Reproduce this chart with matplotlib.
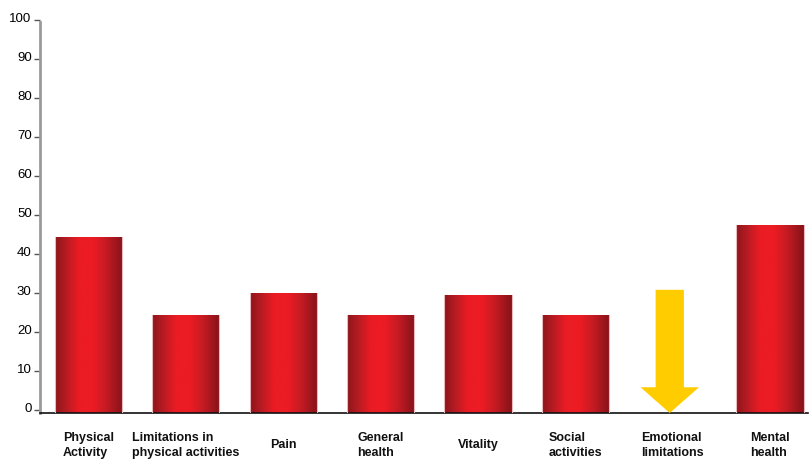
import numpy as np
import matplotlib
matplotlib.use("Agg")
import matplotlib.pyplot as plt
import matplotlib.transforms as mtransforms
from matplotlib.colors import LinearSegmentedColormap

categories = ["Physical\nActivity", "Limitations in\nphysical activities", "Pain",
              "General\nhealth", "Vitality", "Social\nactivities",
              "Emotional\nlimitations", "Mental\nhealth"]
values = [44.4, 24.4, 30, 24.4, 29.5, 24.4, 30.8, 47.4]
arrow_index = 6
yticks = [0, 10, 20, 30, 40, 50, 60, 70, 80, 90, 100]

plt.rcParams['font.family'] = ['Liberation Sans', 'DejaVu Sans']

fig = plt.figure(figsize=(8.11, 4.65), dpi=100)
ax = fig.add_axes([40/811, 1 - 413/465, 768/811, 393/465])
ymin = -0.8

cmap = LinearSegmentedColormap.from_list(
    "redgrad",
    [(0.0, "#8c161b"), (0.15, "#b31b22"), (0.35, "#ea1c24"),
     (0.55, "#ed1c24"), (0.75, "#c61b23"), (1.0, "#85131a")])
grad = np.linspace(0, 1, 256).reshape(1, -1)

x = np.arange(len(categories))
bar_vals = [(v - ymin) if i != arrow_index else 0 for i, v in enumerate(values)]
bars = ax.bar(x, bar_vals, bottom=ymin, width=0.69, color="none", edgecolor="none")
for i, b in enumerate(bars):
    if i == arrow_index:
        continue
    x0, y0 = b.get_x(), b.get_y()
    w, h = b.get_width(), b.get_height()
    im = ax.imshow(grad, cmap=cmap, aspect="auto",
                   extent=(x0, x0 + w, y0, y0 + h), zorder=2,
                   interpolation="bicubic")
    im.set_clip_path(b)
    ax.plot([x0, x0], [y0, y0 + h], color="#e9b9bd", lw=0.8, zorder=3)
    ax.plot([x0 + w, x0 + w], [y0, y0 + h], color="#e9b9bd", lw=0.8, zorder=3)

# Yellow down arrow for emotional limitations
ax.arrow(x[arrow_index] - 0.03, values[arrow_index], 0, -(values[arrow_index] - ymin),
         width=0.29, head_width=0.6, head_length=6.6,
         length_includes_head=True, color="#ffcc00", ec="none", zorder=3)

ax.set_xlim(-0.498, 7.39)
ax.set_ylim(ymin, 100)
ax.set_yticks(yticks)
ax.set_yticklabels([str(t) for t in yticks], fontsize=9.5)
ax.tick_params(axis="y", length=4, width=1, color="#555555", pad=2)
offset = mtransforms.ScaledTranslation(0, 2.5/100, fig.dpi_scale_trans)
for lab in ax.get_yticklabels():
    lab.set_transform(lab.get_transform() + offset)
ax.set_xticks([])

for s in ["top", "right"]:
    ax.spines[s].set_visible(False)
ax.spines["left"].set_color("#9a9a9a")
ax.spines["left"].set_linewidth(2)
ax.spines["left"].set_bounds(ymin, 99.5)
ax.spines["bottom"].set_color("#111111")
ax.spines["bottom"].set_linewidth(1.2)

trans = ax.get_xaxis_transform()
for xi, lab in zip(x, categories):
    ax.text(xi, -0.082, lab, transform=trans, ha="center", va="center",
            multialignment="left", fontsize=9, fontweight="bold",
            linespacing=1.35, color="#111111")

fig.savefig("out.png", dpi=100)
